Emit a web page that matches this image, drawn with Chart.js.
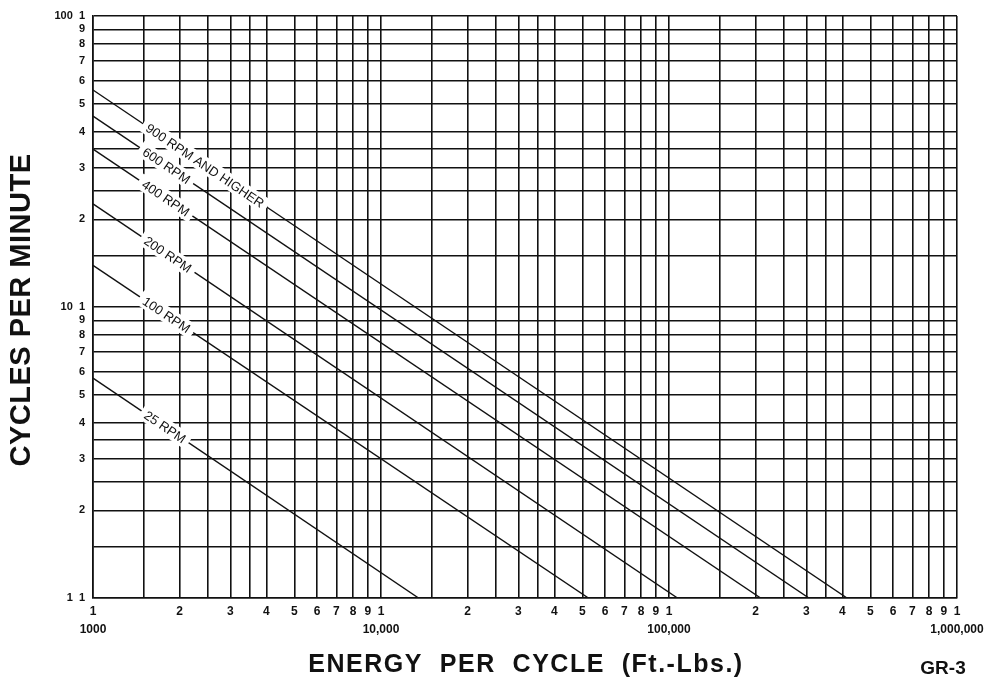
<!DOCTYPE html>
<html>
<head>
<meta charset="utf-8">
<script src="https://cdn.jsdelivr.net/npm/chart.js@4.4.1/dist/chart.umd.min.js"></script>
<style>
html, body { margin: 0; padding: 0; background: #fff; }
#wrap { width: 994px; height: 681px; }
</style>
</head>
<body>
<div id="wrap"><canvas id="rpmChart"></canvas></div>
<script>
// energy per cycle (ft-lbs) vs cycles per minute, one line per speed rating
const seriesNames = ['900 RPM AND HIGHER', '600 RPM', '400 RPM', '200 RPM', '100 RPM', '25 RPM'];
const startEnergy = [1000, 1000, 1000, 1000, 1000, 1000];
const startCycles = [55.7, 45.3, 34.9, 22.6, 13.9, 5.7];
const endEnergy = [415000, 306000, 208000, 107000, 52500, 13500];
const endCycles = [1, 1, 1, 1, 1, 1];
const labelEnergy = [2450, 1800, 1790, 1820, 1800, 1780];

// log paper rulings inside each decade
const gridSteps = [1, 1.5, 2, 2.5, 3, 3.5, 4, 5, 6, 7, 8, 9];
const xDecades = [1000, 10000, 100000];
const yDecades = [1, 10];
const xDecadeLabels = ['1000', '10,000', '100,000', '1,000,000'];
const yDecadeLabels = ['1', '10', '100'];

const FONT = '"Liberation Sans", Arial, Helvetica, sans-serif';

const xTicks = [], xLabels = new Map();
xDecades.forEach((d, k) => {
    gridSteps.forEach(s => {
        const v = d * s;
        xTicks.push(v);
        if (s === 1) xLabels.set(v, ['1', xDecadeLabels[k]]);
        else if (Number.isInteger(s)) xLabels.set(v, String(s));
        else xLabels.set(v, '');
    });
});
xTicks.push(1000000);
xLabels.set(1000000, ['1', xDecadeLabels[3]]);

const yTicks = [], yLabels = new Map();
yDecades.forEach((d, k) => {
    gridSteps.forEach(s => {
        const v = d * s;
        yTicks.push(v);
        if (s === 1) yLabels.set(v, yDecadeLabels[k] + '  1');
        else if (Number.isInteger(s)) yLabels.set(v, String(s));
        else yLabels.set(v, '');
    });
});
yTicks.push(100);
yLabels.set(100, yDecadeLabels[2] + '  1');

const lineLabels = {
    id: 'lineLabels',
    afterDatasetsDraw(chart) {
        const { ctx, scales: { x, y } } = chart;
        ctx.font = '13px ' + FONT;
        ctx.textAlign = 'center';
        ctx.textBaseline = 'middle';
        seriesNames.forEach((name, i) => {
            const x0 = x.getPixelForValue(startEnergy[i]), y0 = y.getPixelForValue(startCycles[i]);
            const x1 = x.getPixelForValue(endEnergy[i]), y1 = y.getPixelForValue(endCycles[i]);
            const px = x.getPixelForValue(labelEnergy[i]);
            const py = y0 + (y1 - y0) * (px - x0) / (x1 - x0);
            const w = ctx.measureText(name).width + 10;
            ctx.save();
            ctx.translate(px, py);
            ctx.rotate(Math.atan2(y1 - y0, x1 - x0));
            ctx.fillStyle = '#fff';
            ctx.fillRect(-w / 2, -8, w, 16);
            ctx.fillStyle = '#111';
            ctx.fillText(name, 0, 1);
            ctx.restore();
        });
    }
};

const titles = {
    id: 'titles',
    afterDraw(chart) {
        const ctx = chart.ctx;
        ctx.save();
        ctx.fillStyle = '#111';
        ctx.textAlign = 'center';
        ctx.textBaseline = 'middle';

        ctx.save();
        ctx.translate(22, 310);
        ctx.rotate(-Math.PI / 2);
        ctx.font = 'bold 29px ' + FONT;
        ctx.letterSpacing = '0.5px';
        ctx.fillText('CYCLES PER MINUTE', 0, 0);
        ctx.restore();

        ctx.font = 'bold 25px ' + FONT;
        ctx.letterSpacing = '1.5px';
        ctx.fillText('ENERGY  PER  CYCLE  (Ft.-Lbs.)', 526, 665);
        ctx.letterSpacing = '0px';

        ctx.font = 'bold 19px ' + FONT;
        ctx.fillText('GR-3', 943, 669);
        ctx.restore();
    }
};

const ctx = document.getElementById('rpmChart').getContext('2d');
new Chart(ctx, {
    type: 'line',
    data: {
        datasets: seriesNames.map((name, i) => ({
            label: name,
            data: [{ x: startEnergy[i], y: startCycles[i] }, { x: endEnergy[i], y: endCycles[i] }],
            borderColor: '#111',
            borderWidth: 1.4,
            pointRadius: 0,
            fill: false
        }))
    },
    options: {
        responsive: true,
        maintainAspectRatio: false,
        animation: false,
        layout: { padding: { top: 16, right: 37, left: 0, bottom: 0 } },
        plugins: { legend: { display: false }, tooltip: { enabled: false } },
        scales: {
            x: {
                type: 'logarithmic',
                min: 1000,
                max: 1000000,
                afterBuildTicks: s => { s.ticks = xTicks.map(v => ({ value: v })); },
                afterFit: s => { s.height = 83; },
                grid: { color: '#111', lineWidth: 1.6, drawTicks: false },
                border: { display: true, color: '#111', width: 1.6 },
                ticks: {
                    autoSkip: false,
                    maxRotation: 0,
                    padding: 5,
                    color: '#111',
                    font: { family: FONT, size: 12, weight: 'bold', lineHeight: 1.5 },
                    callback: v => xLabels.get(v) ?? ''
                }
            },
            y: {
                type: 'logarithmic',
                min: 1,
                max: 100,
                afterBuildTicks: s => { s.ticks = yTicks.map(v => ({ value: v })); },
                afterFit: s => { s.width = 93; },
                grid: { color: '#111', lineWidth: 1.6, drawTicks: false },
                border: { display: true, color: '#111', width: 1.6 },
                ticks: {
                    autoSkip: false,
                    padding: 8,
                    color: '#111',
                    font: { family: FONT, size: 11, weight: 'bold' },
                    callback: v => yLabels.get(v) ?? ''
                }
            }
        }
    },
    plugins: [lineLabels, titles]
});
</script>
</body>
</html>
